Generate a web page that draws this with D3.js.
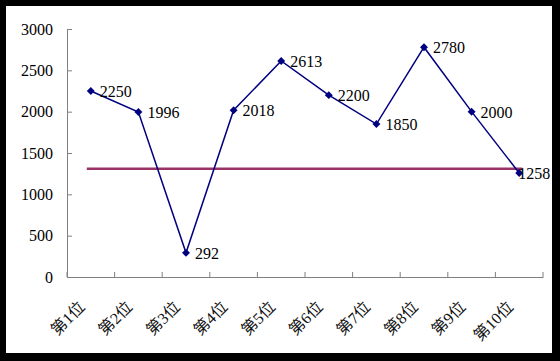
<!DOCTYPE html>
<html><head><meta charset="utf-8">
<script src="https://cdn.jsdelivr.net/npm/d3@7"></script>
<style>html,body{margin:0;padding:0;background:#000;}svg{display:block;}</style>
</head><body>
<script>
const categories = ["第1位","第2位","第3位","第4位","第5位","第6位","第7位","第8位","第9位","第10位"];
const values = [2250,1996,292,2018,2613,2200,1850,2780,2000,1258];
const refValue = [1310];
const yTicks = [0,500,1000,1500,2000,2500,3000];

(function(){
const W = 560, H = 361;
const svg = d3.select("body").append("svg").attr("width", W).attr("height", H);
svg.append("rect").attr("width", W).attr("height", H).attr("fill", "#000");
svg.append("rect").attr("x", 6).attr("y", 6).attr("width", 546).attr("height", 347).attr("fill", "#fff");

const mL = 67, mR = 543, mT = 29, mB = 277;
const x = d3.scaleBand().domain(categories).range([mL, mR]);
const y = d3.scaleLinear().domain([0, 3000]).range([mB, mT]);
const serif = "'Liberation Serif','Noto Sans CJK SC',serif";

// y axis
const ya = svg.append("g").attr("transform", `translate(${mL},0)`)
  .call(d3.axisLeft(y).tickValues(yTicks).tickFormat(d3.format("d")).tickSizeInner(-5).tickSizeOuter(0).tickPadding(14));
ya.select(".domain").attr("stroke", "#808080");
ya.selectAll(".tick line").attr("stroke", "#808080");
ya.selectAll("text").attr("font-family", serif).attr("font-size", 16).attr("fill", "#000");

// x axis
const xa = svg.append("g").attr("transform", `translate(0,${mB})`)
  .call(d3.axisBottom(x).tickSizeInner(0).tickSizeOuter(0).tickFormat(""));
xa.select(".domain").attr("stroke", "#808080");
xa.selectAll(".tick").remove();
const edges = categories.map(c => x(c) + x.bandwidth()).concat([x(categories[0])]);
xa.selectAll("line.tk").data(edges).enter().append("line")
  .attr("x1", d => d).attr("x2", d => d).attr("y1", 0).attr("y2", -5).attr("stroke", "#808080");

svg.append("g").selectAll("text").data(categories).enter().append("text")
  .attr("transform", d => `translate(${x(d) + x.bandwidth()/2 - 5},${mB + 31}) rotate(-45)`)
  .attr("text-anchor", "end")
  .attr("font-family", serif).attr("font-size", 16).attr("fill", "#111").text(d => d);

// reference line
const cx = d => x(d) + x.bandwidth()/2;
svg.append("line")
  .attr("x1", cx(categories[0]) - 4).attr("x2", cx(categories[categories.length-1]) + 3)
  .attr("y1", y(refValue[0])).attr("y2", y(refValue[0]))
  .attr("stroke", "#993366").attr("stroke-width", 2.5);

// series line
const pts = categories.map((c, i) => [cx(c), y(values[i])]);
svg.append("path").attr("d", d3.line()(pts)).attr("fill", "none")
  .attr("stroke", "#000080").attr("stroke-width", 1.5);
svg.append("g").selectAll("path").data(pts).enter().append("path")
  .attr("transform", d => `translate(${d[0]},${d[1]})`)
  .attr("d", d3.symbol(d3.symbolDiamond2, 40)).attr("fill", "#000080");

// data labels
svg.append("g").selectAll("text").data(values).enter().append("text")
  .attr("x", (d, i) => Math.min(pts[i][0] + 9, 551 - String(d).length * 8.2))
  .attr("y", (d, i) => pts[i][1] + 6)
  .attr("font-family", serif).attr("font-size", 16).attr("fill", "#000").text(d => d);
})();
</script>
</body></html>
